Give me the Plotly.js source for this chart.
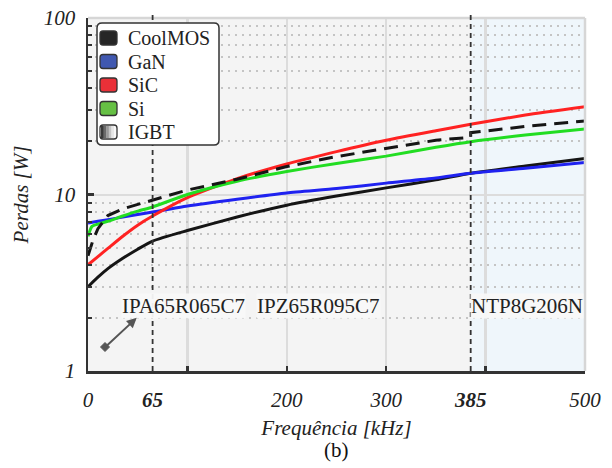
<!DOCTYPE html>
<html>
<head>
<meta charset="utf-8">
<script src="https://cdn.plot.ly/plotly-3.0.1.min.js"></script>
<style>html,body{margin:0;padding:0;background:#fff;}#chart{width:612px;height:468px;}</style>
</head>
<body>
<div id="chart"></div>
<script>
// frequency [kHz]
const freq = [0, 10, 20, 35, 50, 65, 100, 150, 200, 250, 300, 350, 385, 440, 500];
// losses [W]
const coolmos = [3.0, 3.4, 3.8, 4.35, 4.9, 5.45, 6.25, 7.45, 8.7, 9.8, 10.9, 12.1, 13.2, 14.5, 16.0];
const gan     = [6.9, 7.05, 7.2, 7.45, 7.7, 7.95, 8.6, 9.4, 10.2, 10.8, 11.6, 12.4, 13.2, 14.1, 15.2];
const sic     = [4.0, 4.45, 4.95, 5.8, 6.7, 7.55, 9.6, 12.3, 14.9, 17.5, 20.3, 23.0, 25.0, 28.2, 31.4];
const siFreq  = [0, 4, 10, 20, 35, 50, 65, 100, 150, 200, 250, 300, 350, 385, 440, 500];
const si      = [5.8, 6.6, 6.8, 7.05, 7.55, 8.05, 8.5, 10.0, 11.9, 13.5, 15.0, 16.5, 18.5, 19.9, 21.7, 23.5];
const igbtFreq = [0, 5, 10, 20, 35, 50, 65, 100, 150, 200, 250, 300, 350, 385, 385, 440, 500];
const igbt     = [4.5, 5.5, 6.4, 7.6, 8.3, 8.8, 9.3, 10.6, 12.2, 14.4, 16.4, 18.3, 20.3, 21.1, 22.4, 24.3, 26.1];

const legendNames = ["CoolMOS", "GaN", "SiC", "Si", "IGBT"];
const legendColors = ["#262626", "#4058b0", "#ea3038", "#66c044", null];
const deviceLabels = ["IPA65R065C7", "IPZ65R095C7", "NTP8G206N"];
const deviceLabelFreq = [96, 232, 442];
const markFreq = [65, 385];
const xTickVals = [0, 65, 200, 300, 385, 500];
const xTickText = ["0", "<b>65</b>", "200", "300", "<b>385</b>", "500"];
const xGridVals = [100, 200, 300, 400];
const yTickVals = [1, 10, 100];
const yMinorVals = [2,3,4,5,6,7,8,9,20,30,40,50,60,70,80,90];

const serif = "'Liberation Serif', 'Times New Roman', serif";

// plot-area geometry (pixels) used only to place the hand-made legend box
const L = 88, R = 585, T = 18, B = 371;
const px = v => (v - L) / (R - L);
const py = v => (B - v) / (B - T);
function roundRect(x0, y0, x1, y1, r) {
  return `M${px(x0 + r)},${py(y0)} L${px(x1 - r)},${py(y0)} Q${px(x1)},${py(y0)} ${px(x1)},${py(y0 + r)} ` +
         `L${px(x1)},${py(y1 - r)} Q${px(x1)},${py(y1)} ${px(x1 - r)},${py(y1)} L${px(x0 + r)},${py(y1)} ` +
         `Q${px(x0)},${py(y1)} ${px(x0)},${py(y1 - r)} L${px(x0)},${py(y0 + r)} Q${px(x0)},${py(y0)} ${px(x0 + r)},${py(y0)} Z`;
}

const traces = [
  {x: freq, y: coolmos, mode: "lines", line: {color: "#151515", width: 3, shape: "spline", smoothing: 0.6}},
  {x: freq, y: gan, mode: "lines", line: {color: "#1f22f0", width: 3, shape: "spline", smoothing: 0.6}},
  {x: freq, y: sic, mode: "lines", line: {color: "#ff2222", width: 3, shape: "spline", smoothing: 0.6}},
  {x: siFreq, y: si, mode: "lines", line: {color: "#22dd22", width: 3, shape: "spline", smoothing: 0.6}},
  {x: igbtFreq, y: igbt, mode: "lines", line: {color: "#151515", width: 3, dash: "14px,8px"}}
];

const shapes = [
  {type: "rect", xref: "x", yref: "paper", x0: 385, x1: 500, y0: 0, y1: 1, fillcolor: "#eff6fb", line: {width: 0}, layer: "below"},
  {type: "line", xref: "paper", yref: "paper", x0: 0, x1: 1, y0: 1, y1: 1, line: {color: "#d6d6d6", width: 2.5}},
  {type: "line", xref: "paper", yref: "paper", x0: 1, x1: 1, y0: 0, y1: 1, line: {color: "#d6d6d6", width: 2.5}}
];
markFreq.forEach(f => shapes.push({type: "line", xref: "x", yref: "paper", x0: f, x1: f, y0: 0, y1: 1.01,
  line: {color: "#333", width: 1.8, dash: "5px,4px"}}));

// legend box
shapes.push({type: "path", xref: "paper", yref: "paper", path: roundRect(97, 23, 219, 145, 5),
  fillcolor: "#ffffff", line: {color: "#333", width: 1.5}});
const annotations = [];
legendNames.forEach((n, i) => {
  const cy = 38 + i * 23.5;
  if (legendColors[i]) {
    shapes.push({type: "path", xref: "paper", yref: "paper", path: roundRect(100, cy - 7, 117, cy + 7, 3),
      fillcolor: legendColors[i], line: {color: "#333", width: 1.3}});
  } else {
    const shades = ["#3a3a3a", "#6a6a6a", "#999999", "#c4c4c4", "#e6e6e6", "#f8f8f8"];
    shades.forEach((c, k) => shapes.push({type: "rect", xref: "paper", yref: "paper",
      x0: px(101 + k * 2.6), x1: px(101 + (k + 1) * 2.6 + 0.3), y0: py(cy - 6), y1: py(cy + 6), fillcolor: c, line: {width: 0}}));
    shapes.push({type: "path", xref: "paper", yref: "paper", path: roundRect(100, cy - 7, 117, cy + 7, 3),
      line: {color: "#333", width: 1.3}});
  }
  annotations.push({x: px(126), y: py(cy), xref: "paper", yref: "paper", xanchor: "left", yanchor: "middle",
    text: n, showarrow: false, font: {family: serif, size: 20, color: "#222"}});
});

deviceLabels.forEach((t, i) => annotations.push({
  x: deviceLabelFreq[i], y: Math.log10(2.34), xref: "x", yref: "y", text: t, showarrow: false,
  font: {family: serif, size: 21, color: "#222"}, bgcolor: "rgba(248,248,248,0.95)", borderpad: 0
}));
annotations.push({x: 49, y: Math.log10(2.0), ax: 17, ay: Math.log10(1.36), xref: "x", yref: "y", axref: "x", ayref: "y",
  text: "", showarrow: true, arrowhead: 2, arrowsize: 1, arrowwidth: 2, arrowcolor: "#555"});
// diamond at arrow tail
shapes.push({type: "path", xref: "paper", yref: "paper",
  path: `M${px(105)},${py(342.5)} L${px(109.5)},${py(347)} L${px(105)},${py(351.5)} L${px(100.5)},${py(347)} Z`,
  fillcolor: "#555", line: {color: "#555", width: 1}});
annotations.push({x: 0.5, y: -0.224, xref: "paper", yref: "paper", text: "(b)", showarrow: false,
  font: {family: serif, size: 21, color: "#111"}, yanchor: "middle"});

const layout = {
  width: 612, height: 468,
  margin: {l: L, r: 612 - R, t: T, b: 468 - B},
  paper_bgcolor: "#ffffff",
  plot_bgcolor: "#f4f4f4",
  showlegend: false,
  xaxis: {
    range: [0, 500], showline: true, linecolor: "#333", linewidth: 2.5, zeroline: false, showgrid: false,
    tickmode: "array", tickvals: xTickVals, ticktext: xTickText, ticks: "", ticklabelstandoff: 8,
    tickfont: {family: serif, size: 21, style: "italic", color: "#222"},
    minor: {tickmode: "array", tickvals: xGridVals, showgrid: true, gridcolor: "#dcdcdc", gridwidth: 2.5,
      ticks: "inside", ticklen: 5, tickwidth: 2.5, tickcolor: "#333"},
    title: {text: "Frequência [kHz]", font: {family: serif, size: 21, style: "italic", color: "#222"}, standoff: 10}
  },
  yaxis: {
    type: "log", range: [0, 2], showline: true, linecolor: "#333", linewidth: 2.5, zeroline: false,
    tickmode: "array", tickvals: yTickVals, ticktext: ["1", "10", "100"], ticks: "inside", ticklen: 6, tickwidth: 2.5, tickcolor: "#333",
    showgrid: true, gridcolor: "#dcdcdc", gridwidth: 2, ticklabelstandoff: 6,
    tickfont: {family: serif, size: 21, style: "italic", color: "#222"},
    minor: {tickmode: "array", tickvals: yMinorVals, showgrid: true, gridcolor: "#c4c4c4", gridwidth: 2, griddash: "2px,5px",
      ticks: "inside", ticklen: 4, tickwidth: 2, tickcolor: "#333"},
    title: {text: "Perdas [W]", font: {family: serif, size: 21, style: "italic", color: "#222"}, standoff: 10}
  },
  shapes: shapes,
  annotations: annotations
};

Plotly.newPlot("chart", traces, layout, {displayModeBar: false, staticPlot: true});
</script>
</body>
</html>
